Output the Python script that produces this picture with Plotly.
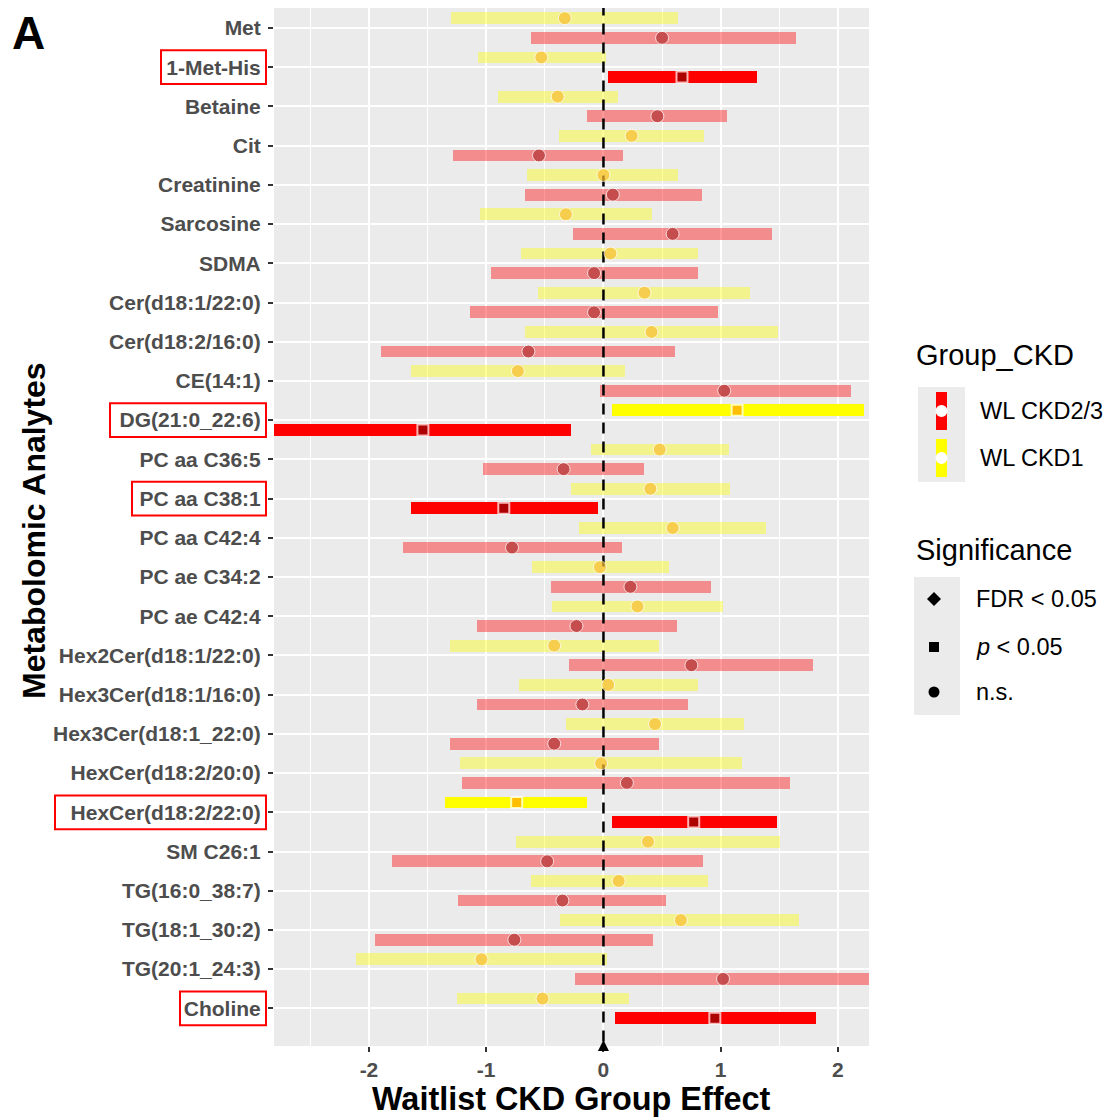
import plotly.graph_objects as go

# ---------------- data ----------------
analytes = ["Met", "1-Met-His", "Betaine", "Cit", "Creatinine", "Sarcosine", "SDMA",
            "Cer(d18:1/22:0)", "Cer(d18:2/16:0)", "CE(14:1)", "DG(21:0_22:6)",
            "PC aa C36:5", "PC aa C38:1", "PC aa C42:4", "PC ae C34:2", "PC ae C42:4",
            "Hex2Cer(d18:1/22:0)", "Hex3Cer(d18:1/16:0)", "Hex3Cer(d18:1_22:0)",
            "HexCer(d18:2/20:0)", "HexCer(d18:2/22:0)", "SM C26:1", "TG(16:0_38:7)",
            "TG(18:1_30:2)", "TG(20:1_24:3)", "Choline"]

# WL CKD1 (yellow)
ckd1_est = [-0.33, -0.53, -0.39, 0.24, 0.00, -0.32, 0.06, 0.35, 0.41, -0.73, 1.14,
            0.48, 0.40, 0.59, -0.03, 0.29, -0.42, 0.04, 0.44, -0.02, -0.74, 0.38,
            0.13, 0.66, -1.04, -0.52]
ckd1_lo = [-1.30, -1.07, -0.90, -0.38, -0.65, -1.05, -0.70, -0.56, -0.67, -1.64, 0.07,
           -0.11, -0.28, -0.21, -0.61, -0.44, -1.31, -0.72, -0.32, -1.22, -1.35, -0.75,
           -0.62, -0.37, -2.11, -1.25]
ckd1_hi = [0.64, 0.02, 0.12, 0.86, 0.64, 0.41, 0.81, 1.25, 1.49, 0.18, 2.22,
           1.07, 1.08, 1.39, 0.56, 1.02, 0.47, 0.81, 1.20, 1.18, -0.14, 1.51,
           0.89, 1.67, 0.03, 0.22]
ckd1_sig = ["n.s."] * 26
ckd1_sig[10] = "p < 0.05"
ckd1_sig[20] = "p < 0.05"

# WL CKD2/3 (red)
ckd23_est = [0.50, 0.67, 0.46, -0.55, 0.08, 0.59, -0.08, -0.08, -0.64, 1.03, -1.54,
             -0.34, -0.85, -0.78, 0.23, -0.23, 0.75, -0.18, -0.42, 0.20, 0.77, -0.48,
             -0.35, -0.76, 1.02, 0.95]
ckd23_lo = [-0.62, 0.04, -0.14, -1.28, -0.67, -0.26, -0.96, -1.14, -1.90, -0.03, -2.90,
            -1.03, -1.64, -1.71, -0.45, -1.08, -0.29, -1.08, -1.31, -1.21, 0.07, -1.80,
            -1.24, -1.95, -0.24, 0.10]
ckd23_hi = [1.64, 1.31, 1.05, 0.17, 0.84, 1.44, 0.81, 0.98, 0.61, 2.11, -0.28,
            0.35, -0.05, 0.16, 0.92, 0.63, 1.79, 0.72, 0.47, 1.59, 1.48, 0.85,
            0.53, 0.42, 2.35, 1.81]
ckd23_sig = ["n.s."] * 26
for i in [1, 10, 12, 20, 25]:
    ckd23_sig[i] = "p < 0.05"

x_ticks = [-2, -1, 0, 1, 2]
boxed_labels = {"1-Met-His": 161, "DG(21:0_22:6)": 110, "PC aa C38:1": 132,
                "HexCer(d18:2/22:0)": 55, "Choline": 180}

# ---------------- styling ----------------
FONT = "Liberation Sans"
OFF = 8                      # page body margin offset
W, H = 1114 - OFF, 1117 - OFF
PL, PR, PT, PB = 274, 869, 8, 1046   # plot area in screen pixels

def xp(px):
    return (px - PL) / (PR - PL)

def yp(py):
    return (PB - py) / (PB - PT)

symbol_map = {"FDR < 0.05": "diamond", "p < 0.05": "square", "n.s.": "circle"}
n = len(analytes)
idx = list(range(n))

series = [
    dict(name="WL CKD1", est=ckd1_est, lo=ckd1_lo, hi=ckd1_hi, sig=ckd1_sig, off=-0.25,
         bar_sig="rgb(255,255,0)", bar_ns="rgba(255,255,0,0.4)",
         pt_sig="#FFA500", pt_ns="#F9BE33"),
    dict(name="WL CKD2/3", est=ckd23_est, lo=ckd23_lo, hi=ckd23_hi, sig=ckd23_sig, off=0.25,
         bar_sig="rgb(255,0,0)", bar_ns="rgba(255,0,0,0.4)",
         pt_sig="#8B0000", pt_ns="#B23333"),
]

fig = go.Figure()

# bars
for s in series:
    ypos = [i + s["off"] for i in idx]
    fig.add_trace(go.Bar(
        orientation="h", y=ypos, base=s["lo"],
        x=[h - l for h, l in zip(s["hi"], s["lo"])],
        width=0.3,
        marker=dict(color=[s["bar_sig"] if g != "n.s." else s["bar_ns"] for g in s["sig"]],
                    line=dict(width=0)),
        showlegend=False, hoverinfo="skip"))

# zero reference line
fig.add_trace(go.Scatter(x=[0, 0], y=[-0.6, 26.1], mode="lines",
                         line=dict(color="black", width=2.5, dash="11px,8px"),
                         showlegend=False, hoverinfo="skip"))

# points
for s in series:
    ypos = [i + s["off"] for i in idx]
    fig.add_trace(go.Scatter(
        x=s["est"], y=ypos, mode="markers",
        marker=dict(symbol=[symbol_map[g] for g in s["sig"]],
                    size=[11 if g != "n.s." else 13 for g in s["sig"]],
                    color=[s["pt_sig"] if g != "n.s." else s["pt_ns"] for g in s["sig"]],
                    line=dict(color="white", width=[2 if g != "n.s." else 1 for g in s["sig"]])),
        showlegend=False, hoverinfo="skip"))

shapes = []
annotations = []

# red boxes around highlighted labels
for lab, left in boxed_labels.items():
    i = analytes.index(lab)
    shapes.append(dict(type="rect", xref="paper", yref="y", x0=xp(left), x1=xp(266),
                       y0=i - 0.43, y1=i + 0.43, line=dict(color="red", width=2),
                       fillcolor="rgba(0,0,0,0)", layer="above"))

# legend 1 : Group_CKD
shapes.append(dict(type="rect", xref="paper", yref="paper", x0=xp(918), x1=xp(965),
                   y0=yp(482), y1=yp(387), fillcolor="#EBEBEB", line=dict(width=0)))
for (top, bot, cy, col) in [(392, 430, 411, "red"), (439, 477, 458, "yellow")]:
    shapes.append(dict(type="rect", xref="paper", yref="paper", x0=xp(936), x1=xp(947),
                       y0=yp(bot), y1=yp(top), fillcolor=col, line=dict(width=0)))
    shapes.append(dict(type="circle", xref="paper", yref="paper", x0=xp(935.5), x1=xp(947.5),
                       y0=yp(cy + 6), y1=yp(cy - 6), fillcolor="white", line=dict(width=0)))

# legend 2 : Significance
shapes.append(dict(type="rect", xref="paper", yref="paper", x0=xp(914), x1=xp(960),
                   y0=yp(715), y1=yp(577), fillcolor="#EBEBEB", line=dict(width=0)))
cx = 934
shapes.append(dict(type="path", xref="paper", yref="paper",
                   path=f"M {xp(cx)} {yp(599-7)} L {xp(cx+7)} {yp(599)} L {xp(cx)} {yp(599+7)} L {xp(cx-7)} {yp(599)} Z",
                   fillcolor="black", line=dict(width=0)))
shapes.append(dict(type="rect", xref="paper", yref="paper", x0=xp(cx - 5), x1=xp(cx + 5),
                   y0=yp(652), y1=yp(642), fillcolor="black", line=dict(width=0)))
shapes.append(dict(type="circle", xref="paper", yref="paper", x0=xp(cx - 5.5), x1=xp(cx + 5.5),
                   y0=yp(697.5), y1=yp(686.5), fillcolor="black", line=dict(width=0)))

def txt(text, px, py, size, bold=False, xanchor="left", angle=0, color="black"):
    annotations.append(dict(text=text, xref="paper", yref="paper", x=xp(px), y=yp(py),
                            xanchor=xanchor, yanchor="middle", showarrow=False,
                            textangle=angle, borderpad=0,
                            font=dict(family=FONT, size=size, color=color,
                                      weight="bold" if bold else "normal")))

txt("Group_CKD", 915, 355, 29)
txt("WL CKD2/3", 979, 411, 23.5)
txt("WL CKD1", 979, 458, 23.5)
txt("Significance", 915, 550, 29)
txt("FDR < 0.05", 975, 599, 23.5)
txt("<i>p</i> < 0.05", 975, 647, 23.5)
txt("n.s.", 975, 692, 23.5)
txt("A", 11, 33, 46, bold=True)
txt("Waitlist CKD Group Effect", (PL + PR) / 2, 1099, 32.4, bold=True, xanchor="center")
txt("Metabolomic Analytes", 34, 531, 32, bold=True, xanchor="center", angle=-90)

# arrow at zero on bottom
annotations.append(dict(x=0, xref="x", y=yp(1040), yref="paper", text="", showarrow=True,
                        ax=0, ay=8, arrowhead=2, arrowsize=1.1, arrowwidth=2,
                        arrowcolor="black"))

fig.update_layout(
    width=W, height=H,
    margin=dict(l=PL - OFF, r=W - (PR - OFF), t=PT - OFF, b=H - (PB - OFF), pad=0),
    paper_bgcolor="white", plot_bgcolor="#EBEBEB",
    barmode="overlay", bargap=0,
    showlegend=False,
    shapes=shapes, annotations=annotations,
    xaxis=dict(range=[-2.81, 2.265], tickvals=x_ticks, ticktext=[str(v) for v in x_ticks],
               showgrid=True, gridcolor="white", gridwidth=2, zeroline=False,
               minor=dict(dtick=0.5, tick0=0, showgrid=True, gridcolor="white", gridwidth=1,
                          ticklen=0),
               ticks="outside", ticklen=5, tickwidth=2, tickcolor="#333333",
               tickfont=dict(family=FONT, size=21, color="#4D4D4D", weight="bold"),
               showline=False, fixedrange=True),
    yaxis=dict(range=[25.96, -0.51], tickvals=idx, ticktext=analytes,
               showgrid=True, gridcolor="white", gridwidth=2, zeroline=False,
               ticks="outside", ticklen=5, tickwidth=2, tickcolor="#333333",
               ticklabelstandoff=3,
               tickfont=dict(family=FONT, size=21, color="#4D4D4D", weight="bold"),
               showline=False, fixedrange=True),
)

fig.write_html("out.html")
